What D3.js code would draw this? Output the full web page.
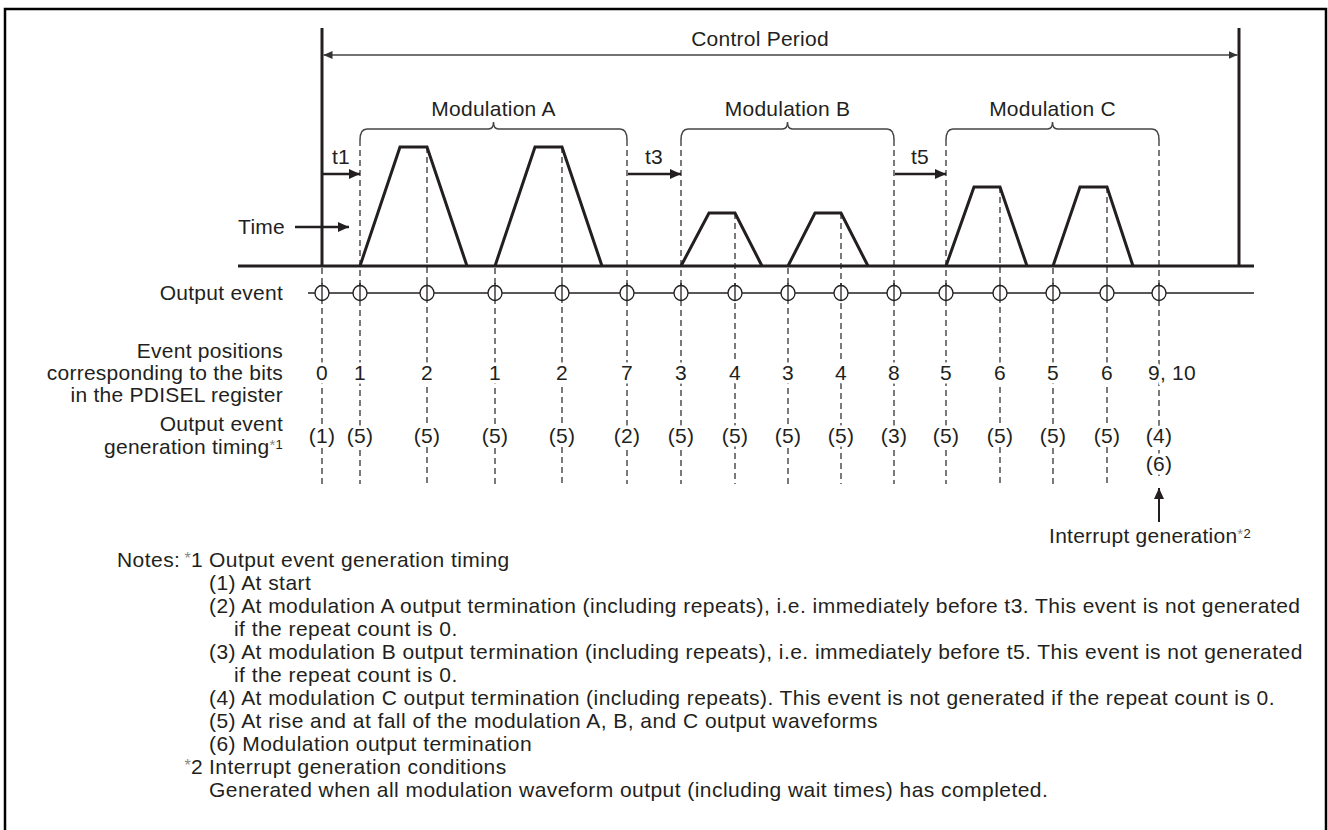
<!DOCTYPE html>
<html><head><meta charset="utf-8">
<script src="https://cdn.jsdelivr.net/npm/d3@7"></script>
<style>
html,body{margin:0;padding:0;background:#fff;}
svg text{font-family:"Liberation Sans",Arial,Helvetica,sans-serif;fill:#231f20;letter-spacing:0.25px;}
svg text.note{letter-spacing:0.45px;}
</style></head>
<body>
<svg id="chart" width="1328" height="830"></svg>
<script>
// ---------- DATA ----------
const controlPeriod = [0, 917];
const eventTimes  = [0, 38, 105, 173, 240, 305, 359, 413, 466, 519, 572, 624, 678, 731, 785, 837];
const eventBits   = ["0","1","2","1","2","7","3","4","3","4","8","5","6","5","6","9, 10"];
const eventTiming = ["(1)","(5)","(5)","(5)","(5)","(2)","(5)","(5)","(5)","(5)","(3)","(5)","(5)","(5)","(5)","(4)"];
const modNames = ["Modulation A","Modulation B","Modulation C"];
const modStart = [38, 359, 624];
const modEnd   = [305, 572, 837];
const waitNames = ["t1","t3","t5"];
const waitStart = [0, 305, 572];
const waitEnd   = [38, 359, 624];
const pulseStart = [38, 173, 359, 466, 624, 731];
const pulseRise  = [40, 40, 28, 27, 28, 27];
const pulseFlat  = [27, 27, 26, 26, 26, 27];
const pulseFall  = [40, 40, 27, 27, 27, 26];
const pulseLevel = [119, 119, 53, 53, 79, 79];
const rowLabels = {
  output: ["Output event"],
  bits: ["Event positions","corresponding to the bits","in the PDISEL register"],
  timing: ["Output event","generation timing"]
};
const notes = [
  {k:"(1) At start", ind:0},
  {k:"(2) At modulation A output termination (including repeats), i.e. immediately before t3. This event is not generated", ind:0},
  {k:"if the repeat count is 0.", ind:1},
  {k:"(3) At modulation B output termination (including repeats), i.e. immediately before t5. This event is not generated", ind:0},
  {k:"if the repeat count is 0.", ind:1},
  {k:"(4) At modulation C output termination (including repeats). This event is not generated if the repeat count is 0.", ind:0},
  {k:"(5) At rise and at fall of the modulation A, B, and C output waveforms", ind:0},
  {k:"(6) Modulation output termination", ind:0}
];

// ---------- LAYOUT ----------
const svg = d3.select("#chart");
const ink = "#231f20";
const x = d3.scaleLinear().domain(controlPeriod).range([322, 1239]);
const y = d3.scaleLinear().domain([0, 120]).range([266, 146]);
const FS = 21;

const defs = svg.append("defs");
function marker(id, w, h, col){
  defs.append("marker").attr("id",id).attr("viewBox",`0 0 ${w} ${h}`)
    .attr("refX",w).attr("refY",h/2).attr("markerWidth",w).attr("markerHeight",h)
    .attr("markerUnits","userSpaceOnUse").attr("orient","auto-start-reverse")
    .append("path").attr("d",`M0,0L${w},${h/2}L0,${h}Z`).attr("fill",col);
}
marker("arrS", 9, 8, "#333");
marker("arrB", 11, 10, ink);

// border
svg.append("rect").attr("x",5).attr("y",9).attr("width",1321).attr("height",840)
  .attr("fill","none").attr("stroke","#000").attr("stroke-width",2.5);

// control period
svg.append("line").attr("x1",x(controlPeriod[0])+1.5).attr("x2",x(controlPeriod[1])-1.5)
  .attr("y1",55).attr("y2",55).attr("stroke","#444").attr("stroke-width",1.5)
  .attr("marker-start","url(#arrS)").attr("marker-end","url(#arrS)");
svg.append("text").attr("x",760).attr("y",46).attr("text-anchor","middle")
  .attr("font-size",FS).text("Control Period");
svg.selectAll("line.bound").data(controlPeriod).join("line").attr("class","bound")
  .attr("x1",d=>x(d)).attr("x2",d=>x(d)).attr("y1",28).attr("y2",266)
  .attr("stroke",ink).attr("stroke-width",3);

// dashed verticals
const bracketY = 129, bracketEnd = 140;
function dashTop(t){
  if (modStart.includes(t) || modEnd.includes(t)) return bracketEnd;
  for (let i=0;i<pulseStart.length;i++){
    if (pulseStart[i]+pulseRise[i]+pulseFlat[i] === t) return y(pulseLevel[i]);
  }
  return 268;
}
svg.selectAll("line.dash").data(eventTimes).join("line").attr("class","dash")
  .attr("x1",d=>x(d)).attr("x2",d=>x(d))
  .attr("y1",d=>dashTop(d)).attr("y2",(d,i)=> i===eventTimes.length-1 ? 476 : 484)
  .attr("stroke","#333").attr("stroke-width",1.3).attr("stroke-dasharray","6,4");

// baseline
svg.append("line").attr("x1",238).attr("x2",1254).attr("y1",266).attr("y2",266)
  .attr("stroke",ink).attr("stroke-width",3);

// pulses
const pulses = pulseStart.map((s,i)=>[[s,0],[s+pulseRise[i],pulseLevel[i]],
  [s+pulseRise[i]+pulseFlat[i],pulseLevel[i]],[s+pulseRise[i]+pulseFlat[i]+pulseFall[i],0]]);
const lineGen = d3.line().x(d=>x(d[0])).y(d=>y(d[1]));
svg.selectAll("path.pulse").data(pulses).join("path").attr("class","pulse")
  .attr("d",lineGen).attr("fill","none").attr("stroke",ink).attr("stroke-width",3)
  .attr("stroke-linejoin","miter");

// brackets
modNames.forEach((n,i)=>{
  const x0=x(modStart[i]), x1=x(modEnd[i]), xm=(x0+x1)/2;
  const p = `M${x0},${bracketEnd} Q${x0},${bracketY} ${x0+7},${bracketY} H${xm-5} Q${xm},${bracketY} ${xm},${bracketY-7} Q${xm},${bracketY} ${xm+5},${bracketY} H${x1-7} Q${x1},${bracketY} ${x1},${bracketEnd}`;
  svg.append("path").attr("d",p).attr("fill","none").attr("stroke","#444").attr("stroke-width",1.5);
  svg.append("text").attr("x",xm).attr("y",116).attr("text-anchor","middle").attr("font-size",FS).text(n);
});

// waits
waitNames.forEach((n,i)=>{
  svg.append("line").attr("x1",x(waitStart[i])+1).attr("x2",x(waitEnd[i])).attr("y1",174).attr("y2",174)
    .attr("stroke",ink).attr("stroke-width",2.5).attr("marker-end","url(#arrB)");
  svg.append("text").attr("x",(x(waitStart[i])+x(waitEnd[i]))/2).attr("y",164)
    .attr("text-anchor","middle").attr("font-size",FS).text(n);
});

// Time label
svg.append("text").attr("x",285).attr("y",234).attr("text-anchor","end").attr("font-size",FS).text("Time");
svg.append("line").attr("x1",295).attr("x2",349).attr("y1",227).attr("y2",227)
  .attr("stroke",ink).attr("stroke-width",2.5).attr("marker-end","url(#arrB)");

// output event row
svg.append("line").attr("x1",308).attr("x2",1254).attr("y1",293).attr("y2",293)
  .attr("stroke",ink).attr("stroke-width",1.5);
svg.selectAll("ellipse.ev").data(eventTimes).join("ellipse").attr("class","ev")
  .attr("cx",d=>x(d)).attr("cy",293).attr("rx",7).attr("ry",7.5)
  .attr("fill","#fff").attr("stroke",ink).attr("stroke-width",1.3);
svg.selectAll("line.evt").data(eventTimes).join("line").attr("class","evt")
  .attr("x1",d=>x(d)).attr("x2",d=>x(d)).attr("y1",283).attr("y2",301)
  .attr("stroke",ink).attr("stroke-width",1.3);

// row labels
const LX = 283;
svg.append("text").attr("x",LX).attr("y",300).attr("text-anchor","end").attr("font-size",FS).text(rowLabels.output[0]);
rowLabels.bits.forEach((t,i)=> svg.append("text").attr("x",LX).attr("y",358+i*22)
  .attr("text-anchor","end").attr("font-size",FS).text(t));
svg.append("text").attr("x",LX).attr("y",431).attr("text-anchor","end").attr("font-size",FS).text(rowLabels.timing[0]);
const gt = svg.append("text").attr("x",LX).attr("y",454).attr("text-anchor","end").attr("font-size",FS);
gt.append("tspan").text(rowLabels.timing[1]);
gt.append("tspan").attr("fill","#888").attr("font-size",15).attr("dy",-4).text("*");
gt.append("tspan").attr("font-size",13).attr("dy",-1).text("1");

// numbers
const halo = sel => sel.attr("stroke","#fff").attr("stroke-width",7).attr("paint-order","stroke")
  .attr("stroke-linejoin","round");
svg.selectAll("text.bit").data(eventTimes).join("text").attr("class","bit")
  .attr("x",(d,i)=> x(d) + (i===eventTimes.length-1 ? 13 : 0)).attr("y",380).attr("text-anchor","middle")
  .attr("font-size",FS).text((d,i)=>eventBits[i]).call(halo);
svg.selectAll("text.tim").data(eventTimes).join("text").attr("class","tim")
  .attr("x",d=>x(d)).attr("y",443).attr("text-anchor","middle")
  .attr("font-size",FS).text((d,i)=>eventTiming[i]).call(halo);
const lastX = x(eventTimes[eventTimes.length-1]);
svg.append("text").attr("x",lastX).attr("y",471).attr("text-anchor","middle")
  .attr("font-size",FS).text("(6)").call(halo);

// interrupt
svg.append("line").attr("x1",lastX).attr("x2",lastX).attr("y1",522).attr("y2",488)
  .attr("stroke",ink).attr("stroke-width",2).attr("marker-end","url(#arrB)");
const it = svg.append("text").attr("x",1150).attr("y",543).attr("text-anchor","middle").attr("font-size",FS);
it.append("tspan").text("Interrupt generation");
it.append("tspan").attr("fill","#888").attr("font-size",15).attr("dy",-4).text("*");
it.append("tspan").attr("font-size",13).attr("dy",-1).text("2");

// notes
const NY = 567, LH = 23, NX = 209;
svg.append("text").attr("class","note").attr("x",117).attr("y",NY).attr("font-size",FS).text("Notes:");
const s1 = svg.append("text").attr("x",NX-6).attr("y",NY).attr("font-size",FS).attr("text-anchor","end");
s1.append("tspan").attr("fill","#888").attr("font-size",16).attr("dy",-3).text("*");
s1.append("tspan").attr("dy",3).text("1");
svg.append("text").attr("class","note").attr("x",NX).attr("y",NY).attr("font-size",FS).text("Output event generation timing");
notes.forEach((n,i)=> svg.append("text").attr("class","note").attr("x",NX+n.ind*25).attr("y",NY+(i+1)*LH)
  .attr("font-size",FS).text(n.k));
const s2 = svg.append("text").attr("x",NX-6).attr("y",NY+9*LH).attr("font-size",FS).attr("text-anchor","end");
s2.append("tspan").attr("fill","#888").attr("font-size",16).attr("dy",-3).text("*");
s2.append("tspan").attr("dy",3).text("2");
svg.append("text").attr("class","note").attr("x",NX).attr("y",NY+9*LH).attr("font-size",FS).text("Interrupt generation conditions");
svg.append("text").attr("class","note").attr("x",NX).attr("y",NY+10*LH).attr("font-size",FS)
  .text("Generated when all modulation waveform output (including wait times) has completed.");
</script>
</body></html>
